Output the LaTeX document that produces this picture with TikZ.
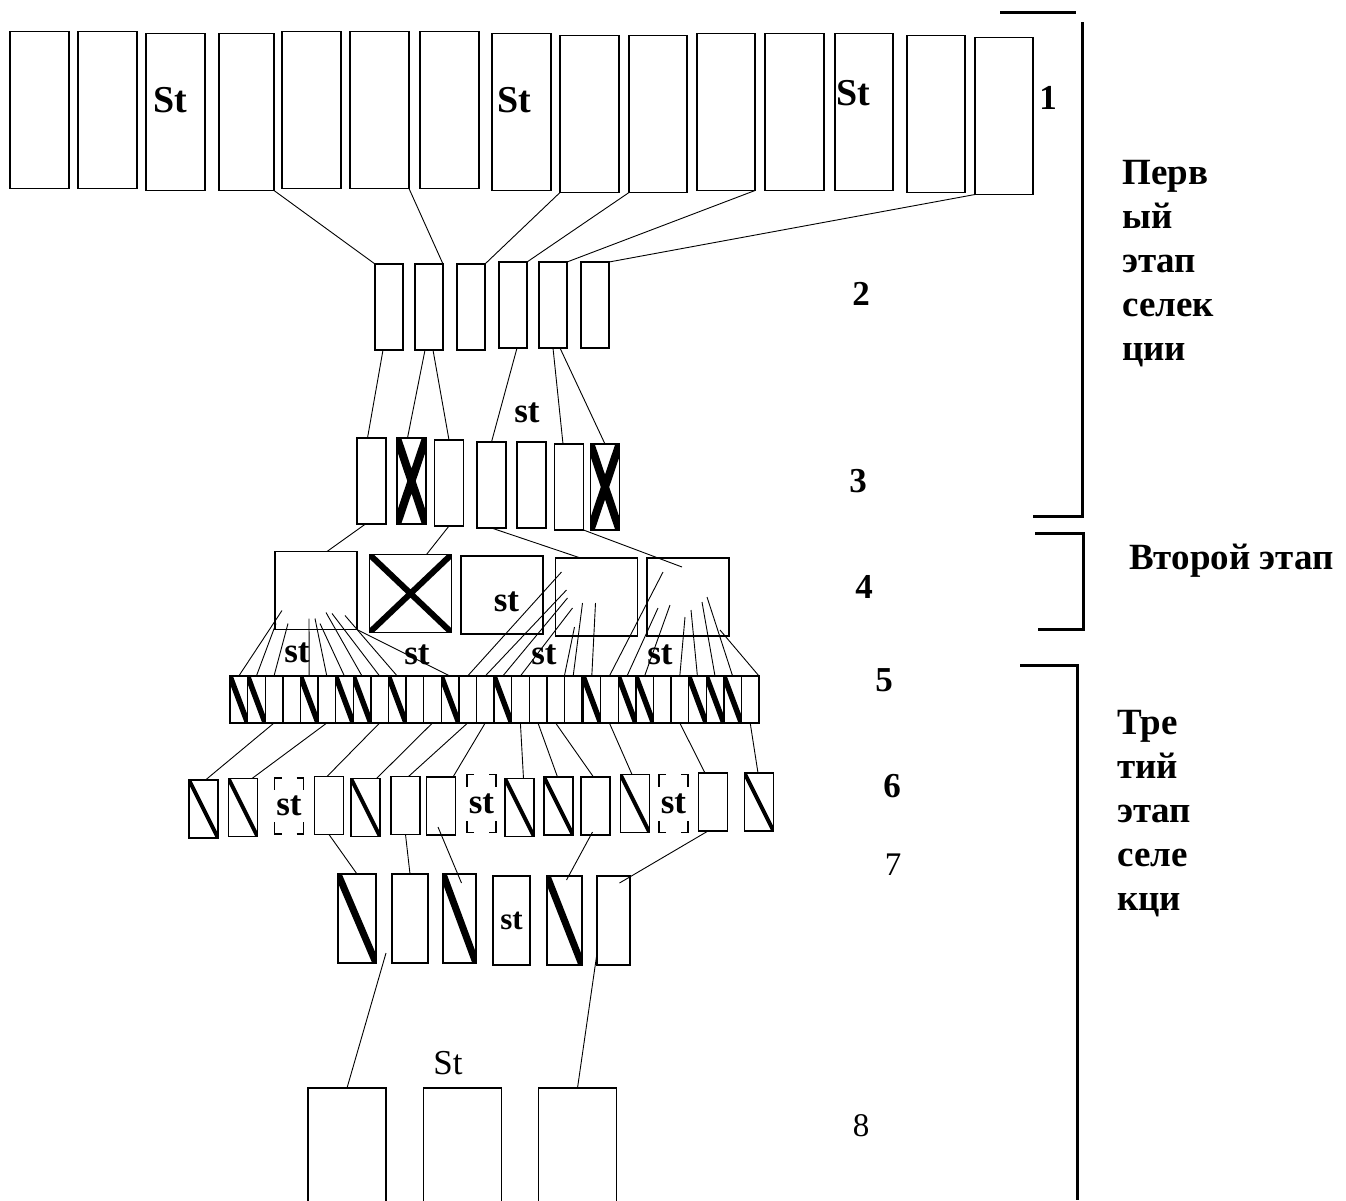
\documentclass[tikz,border=0pt]{standalone}
\usepackage{fontspec}
\setmainfont{Liberation Serif}
\usetikzlibrary{calc}

\newcommand{\stcorners}[1]{%
  \draw[line width=1.4pt] ([xshift=7pt]#1.north west) -| ([yshift=-12pt]#1.north west)
    ([xshift=-7pt]#1.north east) -| ([yshift=-12pt]#1.north east)
    ([xshift=7pt]#1.south west) -| ([yshift=12pt]#1.south west)
    ([xshift=-7pt]#1.south east) -| ([yshift=12pt]#1.south east);}

\begin{document}
\begin{tikzpicture}[x=1pt, y=-1pt,
  box/.style={draw, line width=1.4pt, inner sep=0pt, outer sep=0pt},
  rowone/.style={box, minimum width=59pt, minimum height=157pt},
  rowtwo/.style={box, minimum width=28pt, minimum height=86pt},
  rowthree/.style={box, minimum width=29pt, minimum height=86pt},
  rowfour/.style={box, minimum width=82pt, minimum height=78pt},
  cell/.style={box, minimum width=17.6pt, minimum height=47pt},
  rowsix/.style={box, minimum width=29pt, minimum height=58pt},
  rowseven/.style={box, minimum height=89pt},
  roweight/.style={box, minimum width=78pt, minimum height=140pt},
  slashed/.style={path picture={\draw[line width=#1] (path picture bounding box.north west) -- (path picture bounding box.south east);}},
  slashed/.default=5pt,
  crossed/.style={path picture={\draw[line width=#1] (path picture bounding box.north west) -- (path picture bounding box.south east) (path picture bounding box.north east) -- (path picture bounding box.south west);}},
  crossed/.default=6pt,
  link/.style={line width=0.9pt},
  bracket/.style={line width=3pt},
  lab/.style={inner sep=0pt, font=\bfseries\fontsize{35}{40}\selectfont},
  biglab/.style={inner sep=0pt, font=\bfseries\fontsize{38}{42}\selectfont},
  plainlab/.style={inner sep=0pt, font=\fontsize{35}{42}\selectfont},
  stage/.style={inner sep=0pt, align=left, font=\bfseries\fontsize{37}{44}\selectfont}]

  \path[use as bounding box, fill=white] (0,0) rectangle (1346,1200);

  \node[rowone] (p1) at (39.5,110) {};
  \node[rowone] (p2) at (107.5,110) {};
  \node[rowone] (p3) at (175.5,112) {};
  \node[rowone, minimum width=55pt] (p4) at (246.5,112) {};
  \node[rowone] (p5) at (311.5,110) {};
  \node[rowone] (p6) at (379.5,110) {};
  \node[rowone] (p7) at (449.5,110) {};
  \node[rowone] (p8) at (521.5,112) {};
  \node[rowone] (p9) at (589.5,114) {};
  \node[rowone, minimum width=58pt] (p10) at (658,114) {};
  \node[rowone, minimum width=58pt] (p11) at (726,112) {};
  \node[rowone] (p12) at (794.5,112) {};
  \node[rowone, minimum width=58pt] (p13) at (864,112) {};
  \node[rowone, minimum width=58pt] (p14) at (936,114) {};
  \node[rowone, minimum width=58pt] (p15) at (1004,116) {};

  \node[biglab] (st1) at (170,100) {St};
  \node[biglab] (st2) at (514,100) {St};
  \node[biglab] (st3) at (853,93) {St};

  \node[rowtwo] (q1) at (389,307) {};
  \node[rowtwo] (q2) at (429,307) {};
  \node[rowtwo] (q3) at (471,307) {};
  \node[rowtwo] (q4) at (513,305) {};
  \node[rowtwo] (q5) at (553,305) {};
  \node[rowtwo] (q6) at (595,305) {};

  \node[rowthree] (s1) at (371.5,481) {};
  \node[rowthree, crossed=8pt] (s2) at (411.5,481) {};
  \node[rowthree] (s3) at (449,483) {};
  \node[rowthree] (s4) at (491.5,485) {};
  \node[rowthree] (s5) at (531.5,485) {};
  \node[rowthree] (s6) at (569,487) {};
  \node[rowthree, crossed=8pt] (s7) at (605,487) {};
  \node[lab] (t1) at (527,413) {st};

  \node[rowfour] (f1) at (316,590.5) {};
  \node[rowfour, crossed] (f2) at (410.5,593.5) {};
  \node[rowfour] (f3) at (502,595) {};
  \node[rowfour] (f4) at (596.5,597) {};
  \node[rowfour] (f5) at (688,597) {};
  \node[lab] (t2) at (506.5,602) {st};

  \foreach \k in {1,...,30} {
    \pgfmathsetmacro\cx{\k<21 ? 230+17.6*(\k-0.5) : 583+17.6*(\k-20.5)}
    \node[cell] (c\k) at (\cx,699.5) {};
  }
  \foreach \k in {1,2,5,7,8,10,13,16,21,23,24,27,28,29} {
    \begin{scope}
      \clip (c\k.north west) rectangle (c\k.south east);
      \draw[line width=5.5pt] (c\k.north west) -- (c\k.south east);
    \end{scope}
  }
  \node[lab] (t3) at (297,653) {st};
  \node[lab] (t4) at (417,655) {st};
  \node[lab] (t5) at (544,655) {st};
  \node[lab] (t6) at (660,655) {st};

  \node[rowsix, slashed=4pt] (g1) at (203.5,809) {};
  \node[rowsix, slashed=4pt] (g2) at (243,807.5) {};
  \node[rowsix, draw=none, minimum height=56pt] (g3) at (289,806) {};
  \node[rowsix] (g4) at (329,805.5) {};
  \node[rowsix, slashed=4pt] (g5) at (365.5,807.5) {};
  \node[rowsix] (g6) at (405.5,805.5) {};
  \node[rowsix] (g7) at (441,806) {};
  \node[rowsix, draw=none] (g8) at (481.5,803.5) {};
  \node[rowsix, slashed=4pt] (g9) at (519.5,807.5) {};
  \node[rowsix, slashed=4pt] (g10) at (558.5,806) {};
  \node[rowsix] (g11) at (595.5,806) {};
  \node[rowsix, slashed=4pt] (g12) at (635,803.5) {};
  \node[rowsix, draw=none] (g13) at (673.5,803.5) {};
  \node[rowsix] (g14) at (713,802) {};
  \node[rowsix, slashed=4pt] (g15) at (759,802) {};
  \stcorners{g3}
  \stcorners{g8}
  \stcorners{g13}
  \node[lab] (t7) at (g3) {st};
  \node[lab] (t8) at (g8) {st};
  \node[lab] (t9) at (g13) {st};

  \node[rowseven, minimum width=38pt, slashed=7pt] (h1) at (357,918.5) {};
  \node[rowseven, minimum width=36pt] (h2) at (410,918.5) {};
  \node[rowseven, minimum width=33pt, slashed=7pt] (h3) at (459.5,918.5) {};
  \node[rowseven, minimum width=37pt] (h4) at (511.5,920.5) {};
  \node[rowseven, minimum width=35pt, slashed=7pt] (h5) at (564.5,920.5) {};
  \node[rowseven, minimum width=33pt] (h6) at (613.5,920.5) {};
  \node[lab, font=\bfseries\fontsize{31}{36}\selectfont] (t10) at (h4) {st};

  \node[roweight] (k1) at (347,1158) {};
  \node[roweight] (k2) at (462.5,1158) {};
  \node[roweight] (k3) at (577.5,1158) {};
  \node[plainlab] (t11) at (448,1063) {St};

  \draw[link] (p4.south east) -- (q1.north west);
  \draw[link] (p6.south east) -- (q2.north east);
  \draw[link] (p9.south west) -- (q3.north east);
  \draw[link] (p10.south west) -- (q4.north east);
  \draw[link] (p11.south east) -- (q5.north east);
  \draw[link] (p15.south west) -- (q6.north east);

  \draw[link] ([xshift=-6pt]q1.south) -- ([xshift=-4pt]s1.north);
  \draw[link] ([xshift=-4pt]q2.south) -- ([xshift=-4pt]s2.north);
  \draw[link] ([xshift=4pt]q2.south) -- (s3.north);
  \draw[link] ([xshift=4pt]q4.south) -- (s4.north);
  \draw[link] (q5.south) -- ([xshift=-6pt]s6.north);
  \draw[link] ([xshift=7pt]q5.south) -- (s7.north);

  \draw[link] ([xshift=-6pt]s1.south) -- ([xshift=11pt]f1.north);
  \draw[link] (s3.south) -- ([xshift=16pt]f2.north);
  \draw[link] (s4.south) -- ([xshift=-16pt]f4.north);
  \draw[link] (s6.south east) -- ($(f5.north west)+(35,9)$);

  \foreach \dx/\dy/\k/\a in {7/-19/1/north, 1/-6/2/north, 13/-6/3/north, 34/-11/5/north,
      40/-11/6/north, 45/-6/7/north, 51/-17/8/north, 57/-16/9/north, 70/-14/10/north}
    \draw[link] ($(f1.south west)+(\dx,\dy)$) -- (c\k.\a);
  \draw[link] (f1.south east) -- (c13.north);
  \foreach \dx/\dy/\k/\a in {6/-64/14/north, 11/-46/15/north, 12/-38/16/north, 17/-28/17/north,
      19/-9/19/north east, 27/-33/20/north, 40/-33/21/north}
    \draw[link] ($(f4.south west)+(\dx,\dy)$) -- (c\k.\a);
  \foreach \dx/\dy/\k/\a in {16/-64/22/north, 11/-28/23/north, 23/-31/24/north, 38/-19/26/north,
      44/-26/27/north, 55/-34/28/north, 60/-39/29/north, 73/-6/30/north east}
    \draw[link] ($(f5.south west)+(\dx,\dy)$) -- (c\k.\a);

  \foreach \k/\j/\e in {3/1/2pt, 6/2/9pt, 9/4/-2pt, 12/5/11pt, 14/6/3pt, 15/7/12pt,
      17/9/4pt, 18/10/-1pt, 19/11/-2pt, 22/12/-3pt, 26/14/-8pt, 30/15/-1pt}
    \draw[link] (c\k.south) -- ([xshift=\e]g\j.north);

  \draw[link] (g4.south) -- (h1.north);
  \draw[link] (g6.south) -- (h2.north);
  \draw[link] ($(g7.south)+(-3,-8)$) -- ($(h3.north)+(2,9)$);
  \draw[link] ($(g11.south)+(-3,-3)$) -- ($(h5.north)+(2,4)$);
  \draw[link] ($(g14.south)+(-5,0)$) -- ($(h6.north)+(6,7)$);

  \coordinate (gap) at (386,953);
  \draw[link] (gap) -- (k1.north);
  \draw[link] ($(h6.south west)+(0,-12)$) -- (k3.north);

  \node[lab] (n1) at (1048,98) {1};
  \node[lab] (n2) at (861,294) {2};
  \node[lab] (n3) at (858,481) {3};
  \node[lab] (n4) at (864,587) {4};
  \node[lab] (n5) at (884,680) {5};
  \node[lab] (n6) at (892,786) {6};
  \node[plainlab, font=\fontsize{33}{40}\selectfont] (n7) at (893,865) {7};
  \node[plainlab, font=\fontsize{33}{40}\selectfont] (n8) at (861,1126) {8};

  \draw[bracket] (1000,12) -- (1076,12);
  \draw[bracket] (1082,22) -- (1082,516) -- (1033,516);
  \draw[bracket] (1035,533) -- (1083,533) -- (1083,629) -- (1038,629);
  \draw[bracket] (1020,665) -- (1077,665) -- (1077,1200);

  \node[stage, anchor=north west] (stage1) at (1122,160) {Перв\\ый\\этап\\селек\\ции};
  \node[stage, anchor=base west] (stage2) at (1129,569) {Второй этап};
  \node[stage, anchor=north west] (stage3) at (1117,710) {Тре\\тий\\этап\\селе\\кци};
\end{tikzpicture}
\end{document}
